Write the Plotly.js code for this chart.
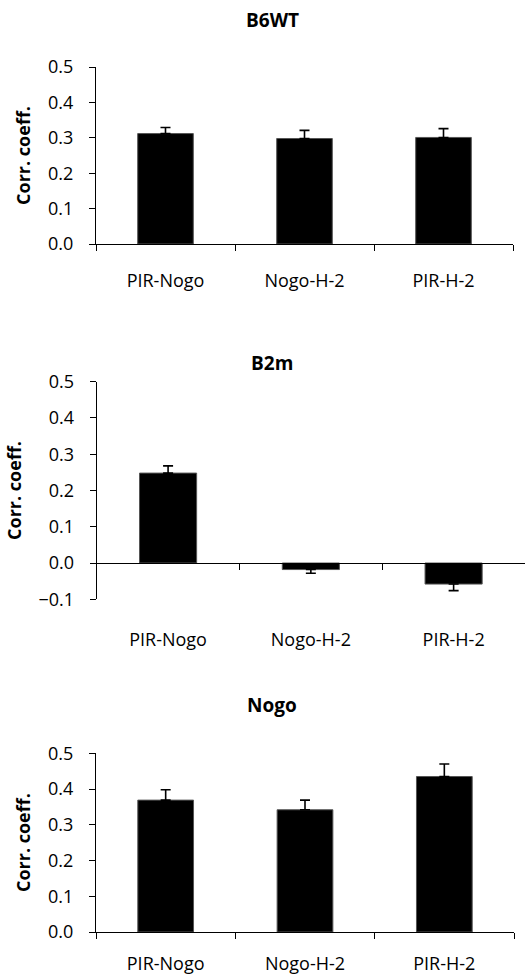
<!DOCTYPE html>
<html>
<head>
<meta charset="utf-8">
<script src="https://cdn.plot.ly/plotly-3.0.1.min.js"></script>
<style>html,body{margin:0;padding:0;background:#fff;}#chart{width:525px;height:978px;}</style>
</head>
<body>
<div id="chart"></div>
<script>
// ---- data ----
const categories = ["PIR-Nogo", "Nogo-H-2", "PIR-H-2"];
const panelTitles = ["B6WT", "B2m", "Nogo"];
const b6wtValues = [0.312, 0.298, 0.301];
const b6wtErrors = [0.017, 0.023, 0.025];
const b2mValues = [0.248, -0.018, -0.058];
const b2mErrors = [0.020, 0.010, 0.018];
const nogoValues = [0.369, 0.342, 0.435];
const nogoErrors = [0.029, 0.027, 0.035];
const yTickVals1 = [0, 0.1, 0.2, 0.3, 0.4, 0.5];
const yTickVals2 = [-0.1, 0, 0.1, 0.2, 0.3, 0.4, 0.5];
const yTitle = "Corr. coeff.";

// ---- layout helpers ----
const W = 525, H = 978;
const fx = px => px / W;
const fy = py => 1 - py / H;
const FONT = "Open Sans, Lato, sans-serif";

function barTrace(vals, errs, xa, ya) {
  return {
    type: "bar", x: categories, y: vals, xaxis: xa, yaxis: ya,
    width: 0.4,
    marker: {color: "#000", line: {color: "#555", width: 1}},
    error_y: {
      type: "data", symmetric: false,
      array: vals.map((v, i) => v >= 0 ? errs[i] : 0),
      arrayminus: vals.map((v, i) => v < 0 ? errs[i] : 0),
      color: "#000", thickness: 1.6, width: 5
    },
    showlegend: false, hoverinfo: "x+y"
  };
}

const traces = [
  barTrace(b6wtValues, b6wtErrors, "x", "y"),
  barTrace(b2mValues, b2mErrors, "x2", "y2"),
  barTrace(nogoValues, nogoErrors, "x3", "y3")
];

const tickFont = {family: FONT, size: 18, color: "#000"};
const boundaries = categories.map((c, i) => i - 0.5).concat([categories.length - 0.5]);

function yAxis(domTop, domBot, range, tickvals, anchor) {
  return {
    domain: [fy(domBot), fy(domTop)], range: range, anchor: anchor,
    tickvals: tickvals, tickformat: ".1f",
    showline: true, linecolor: "#000", linewidth: 1,
    ticks: "outside", ticklen: 6, tickcolor: "#000",
    showgrid: false, zeroline: false,
    tickfont: tickFont, ticklabelstandoff: 12,
    title: {text: yTitle, font: {family: FONT, size: 18, color: "#000", weight: "bold"}, standoff: 12}
  };
}

function xAxisCat(left, right, anchor, withLine, standoff) {
  return {
    domain: [fx(left), Math.min(1, fx(right))], anchor: anchor,
    type: "category", range: [-0.5, categories.length - 0.5],
    showline: withLine, linecolor: "#000", linewidth: 1,
    ticks: withLine ? "outside" : "", tickson: "boundaries", ticklen: 6, tickcolor: "#000",
    showgrid: false, zeroline: false,
    tickfont: tickFont, ticklabelstandoff: standoff
  };
}

// panel 2 zero position in paper coords
const p2Top = 381.7, p2Bot = 599.3, p2Range = [-0.1, 0.5];
const zeroFrac = (0 - p2Range[0]) / (p2Range[1] - p2Range[0]);
const zeroPos = fy(p2Bot) + zeroFrac * (fy(p2Top) - fy(p2Bot));

const layout = {
  width: W, height: H,
  margin: {l: 0, r: 0, t: 0, b: 0},
  paper_bgcolor: "#fff", plot_bgcolor: "rgba(0,0,0,0)",
  font: {family: FONT, color: "#000"},
  bargap: 0.6,
  xaxis: xAxisCat(96, 513, "y", true, 20),
  yaxis: yAxis(67, 244, [0, 0.5], yTickVals1, "x"),
  xaxis2: xAxisCat(96.7, 525.7, "y2", false, 28),
  yaxis2: yAxis(p2Top, p2Bot, p2Range, yTickVals2, "x2"),
  xaxis3: xAxisCat(96, 514, "y3", true, 15),
  yaxis3: yAxis(753.3, 932, [0, 0.5], yTickVals1, "x3"),
  xaxis4: {
    overlaying: "x2", anchor: "free", position: zeroPos,
    range: [-0.5, categories.length - 0.5], type: "linear",
    tickvals: boundaries, showticklabels: false,
    showline: true, linecolor: "#000", linewidth: 1,
    ticks: "outside", ticklen: 6, tickcolor: "#000",
    showgrid: false, zeroline: false
  },
  annotations: [
    {text: "<b>" + panelTitles[0] + "</b>", x: fx(272), y: fy(20)},
    {text: "<b>" + panelTitles[1] + "</b>", x: fx(272), y: fy(363)},
    {text: "<b>" + panelTitles[2] + "</b>", x: fx(272), y: fy(705)}
  ].map(a => Object.assign(a, {xref: "paper", yref: "paper", showarrow: false,
    xanchor: "center", yanchor: "middle", font: {family: FONT, size: 19, color: "#000"}}))
};

// invisible trace so the zero-line tick axis (xaxis4) is drawn
traces.push({type: "scatter", x: [0], y: [0], xaxis: "x4", yaxis: "y2", mode: "markers",
  marker: {opacity: 0}, showlegend: false, hoverinfo: "skip"});

Plotly.newPlot("chart", traces, layout, {displayModeBar: false, staticPlot: true});
</script>
</body>
</html>
